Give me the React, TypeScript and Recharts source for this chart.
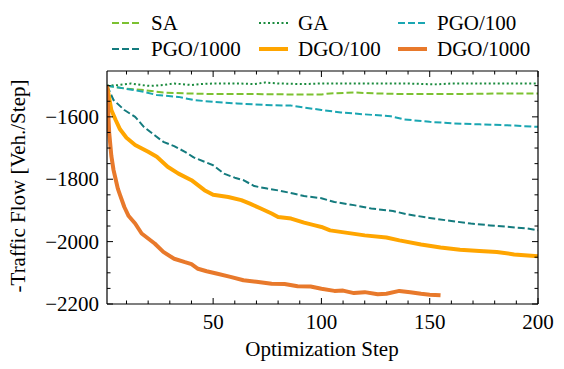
import { LineChart, Line, XAxis, YAxis } from "recharts";

const W = 564;
const H = 369;
const FONT = "'Liberation Serif', 'DejaVu Serif', serif";

// values, step -> -traffic flow
const saSteps = [1, 9, 18, 27, 38, 50, 69, 84, 100, 104, 115, 126, 138, 161, 184, 200];
const saValues = [-1500, -1509, -1514, -1522, -1525, -1527, -1527, -1528, -1528, -1525, -1522, -1525, -1527, -1527, -1525, -1525];

const gaSteps = [1, 6, 12, 17, 21, 27, 32, 40, 44, 50, 62, 69, 74, 80, 92, 100, 120, 140, 152, 160, 180, 200];
const gaValues = [-1500, -1498, -1493, -1498, -1501, -1498, -1493, -1498, -1495, -1493, -1493, -1495, -1490, -1493, -1495, -1493, -1493, -1493, -1496, -1493, -1493, -1493];

const pgo100Steps = [1, 9, 18, 24, 34, 41, 50, 61, 74, 86, 92, 100, 109, 120, 132, 138, 150, 161, 173, 186, 200];
const pgo100Values = [-1500, -1509, -1520, -1530, -1536, -1546, -1552, -1557, -1562, -1564, -1570, -1578, -1586, -1592, -1598, -1608, -1616, -1621, -1624, -1627, -1632];

const pgo1000Steps = [1, 4, 9, 14, 18, 23, 27, 32, 37, 41, 46, 50, 55, 60, 64, 69, 75, 81, 87, 92, 100, 106, 115, 123, 133, 140, 150, 160, 169, 178, 187, 195, 200];
const pgo1000Values = [-1500, -1546, -1578, -1600, -1632, -1659, -1680, -1694, -1712, -1730, -1744, -1755, -1782, -1795, -1803, -1822, -1830, -1837, -1846, -1854, -1861, -1873, -1883, -1894, -1902, -1913, -1924, -1934, -1942, -1948, -1953, -1958, -1964];

const dgo100Steps = [1, 3, 5, 7, 10, 14, 20, 24, 29, 34, 40, 46, 50, 57, 63, 67, 72, 77, 80, 86, 92, 97, 100, 104, 112, 120, 130, 136, 146, 155, 164, 173, 181, 189, 200];
const dgo100Values = [-1500, -1578, -1610, -1640, -1667, -1690, -1712, -1728, -1760, -1782, -1803, -1835, -1850, -1857, -1867, -1878, -1894, -1910, -1921, -1926, -1939, -1948, -1953, -1964, -1972, -1980, -1987, -1996, -2009, -2019, -2026, -2030, -2033, -2041, -2047];

const dgo1000Steps = [1, 2, 3, 4, 5, 6, 7, 9, 11, 14, 17, 20, 23, 27, 32, 37, 40, 43, 47, 52, 58, 64, 70, 77, 83, 89, 95, 100, 106, 110, 115, 120, 126, 130, 136, 141, 146, 150, 155];
const dgo1000Values = [-1500, -1650, -1725, -1770, -1800, -1830, -1850, -1889, -1918, -1942, -1974, -1990, -2006, -2033, -2055, -2066, -2072, -2087, -2095, -2103, -2113, -2124, -2129, -2135, -2136, -2143, -2144, -2151, -2158, -2157, -2165, -2162, -2169, -2167, -2158, -2162, -2167, -2170, -2172];

const xTicks = [10, 20, 30, 40, 50, 60, 70, 80, 90, 100, 110, 120, 130, 140, 150, 160, 170, 180, 190, 200];
const xLabels = [50, 100, 150, 200];
const yTicks = [-2200, -2150, -2100, -2050, -2000, -1950, -1900, -1850, -1800, -1750, -1700, -1650, -1600, -1550, -1500];
const yLabels = [-2200, -2000, -1800, -1600];

const toRows = (steps: number[], values: number[]) =>
  steps.map((s, i) => ({ step: s, v: values[i] }));

const series = [
  { name: "SA", data: toRows(saSteps, saValues), color: "#7cc131", width: 2, dash: "7 3" },
  { name: "GA", data: toRows(gaSteps, gaValues), color: "#1b8b3e", width: 2, dash: "2 2.5" },
  { name: "PGO/100", data: toRows(pgo100Steps, pgo100Values), color: "#1aa6b2", width: 2, dash: "7 3" },
  { name: "PGO/1000", data: toRows(pgo1000Steps, pgo1000Values), color: "#147b7e", width: 2, dash: "7 3" },
  { name: "DGO/100", data: toRows(dgo100Steps, dgo100Values), color: "#ffa500", width: 4, dash: undefined },
  { name: "DGO/1000", data: toRows(dgo1000Steps, dgo1000Values), color: "#e8792b", width: 4, dash: undefined },
];

const MAJOR = 6;
const MINOR = 3.5;

const fmt = (v: number) => (v < 0 ? "\u2212" + Math.abs(v) : String(v));

function BottomTick(props: any) {
  const { x, y, payload } = props;
  const major = xLabels.includes(payload.value);
  return (
    <g>
      <line x1={x} x2={x} y1={y} y2={y - (major ? MAJOR : MINOR)} stroke="#000" strokeWidth={1} />
      {major && (
        <text x={x} y={y + 25} textAnchor="middle" fontFamily={FONT} fontSize={21} fill="#000">
          {fmt(payload.value)}
        </text>
      )}
    </g>
  );
}

function TopTick(props: any) {
  const { x, y, payload } = props;
  const major = xLabels.includes(payload.value);
  return <line x1={x} x2={x} y1={y} y2={y + (major ? MAJOR : MINOR)} stroke="#000" strokeWidth={1} />;
}

function LeftTick(props: any) {
  const { x, y, payload } = props;
  const major = yLabels.includes(payload.value);
  return (
    <g>
      <line x1={x} x2={x + (major ? MAJOR : MINOR)} y1={y} y2={y} stroke="#000" strokeWidth={1} />
      {major && (
        <text x={x - 8} y={y} textAnchor="end" dominantBaseline="central" fontFamily={FONT} fontSize={21} fill="#000">
          {fmt(payload.value)}
        </text>
      )}
    </g>
  );
}

function RightTick(props: any) {
  const { x, y, payload } = props;
  const major = yLabels.includes(payload.value);
  return <line x1={x} x2={x - (major ? MAJOR : MINOR)} y1={y} y2={y} stroke="#000" strokeWidth={1} />;
}

const legendHandleX = [112, 259, 398];
const legendRowY = [23, 49];

const axisCommon = {
  type: "number" as const,
  interval: 0 as const,
  allowDataOverflow: true,
  tickSize: 0,
  tickMargin: 0,
  tickLine: false,
  axisLine: { stroke: "#000", strokeWidth: 1.2 },
};

export default function App() {
  const xDomain = [1, 200];
  const yDomain = [-2200, -1453];
  return (
    <div style={{ position: "absolute", left: 0, top: 0, width: W, height: H, background: "#fff" }}>
      <LineChart width={W} height={H} margin={{ top: 70, right: 25, bottom: 64, left: 106 }}>
        <XAxis {...axisCommon} xAxisId="main" dataKey="step" domain={xDomain} ticks={xTicks} height={1} tick={<BottomTick />} />
        <XAxis {...axisCommon} xAxisId="top" orientation="top" dataKey="step" domain={xDomain} ticks={xTicks} height={1} tick={<TopTick />} />
        <YAxis {...axisCommon} yAxisId="main" domain={yDomain} ticks={yTicks} width={1} tick={<LeftTick />} />
        <YAxis {...axisCommon} yAxisId="right" orientation="right" domain={yDomain} ticks={yTicks} width={1} tick={<RightTick />} />
        {series.map((s) => (
          <Line
            key={s.name}
            xAxisId="main"
            yAxisId="main"
            data={s.data}
            dataKey="v"
            name={s.name}
            type="linear"
            stroke={s.color}
            strokeWidth={s.width}
            strokeDasharray={s.dash}
            strokeLinejoin="round"
            dot={false}
            activeDot={false}
            isAnimationActive={false}
          />
        ))}
      </LineChart>
      <svg width={W} height={H} style={{ position: "absolute", left: 0, top: 0, pointerEvents: "none" }}>
        {series.map((s, i) => {
          const hx = legendHandleX[i % 3];
          const hy = legendRowY[Math.floor(i / 3)];
          return (
            <g key={s.name}>
              <line x1={hx} x2={hx + 29} y1={hy} y2={hy} stroke={s.color} strokeWidth={s.width} strokeDasharray={s.dash} />
              <text x={hx + 39} y={hy} dominantBaseline="central" fontFamily={FONT} fontSize={21} fill="#000">
                {s.name}
              </text>
            </g>
          );
        })}
        <text x={322} y={356} textAnchor="middle" fontFamily={FONT} fontSize={21} fill="#000">
          Optimization Step
        </text>
        <text
          transform="translate(25, 186) rotate(-90)"
          textAnchor="middle"
          fontFamily={FONT}
          fontSize={21}
          fill="#000"
        >
          -Traffic Flow [Veh./Step]
        </text>
      </svg>
    </div>
  );
}
